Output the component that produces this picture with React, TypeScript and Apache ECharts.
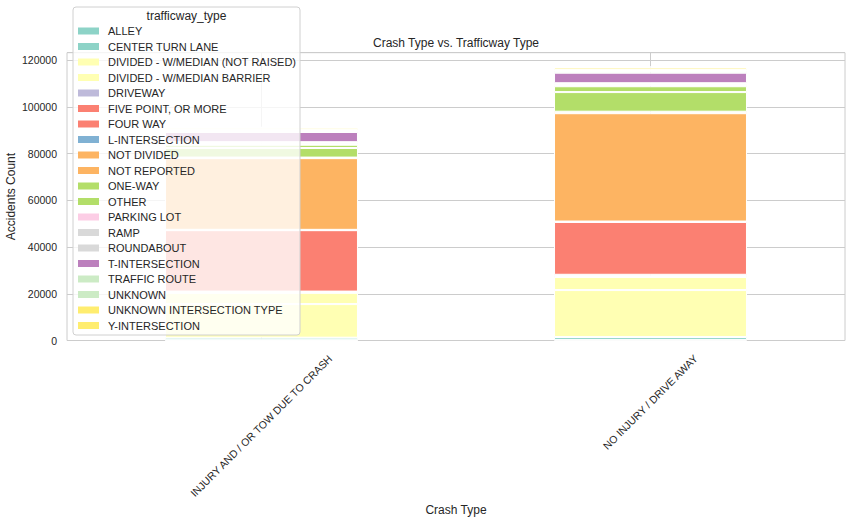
import React, { useEffect, useRef } from "react";
import * as echarts from "echarts";

const categories = ["INJURY AND / OR TOW DUE TO CRASH", "NO INJURY / DRIVE AWAY"];

const trafficwayTypes = [
  "ALLEY",
  "CENTER TURN LANE",
  "DIVIDED - W/MEDIAN (NOT RAISED)",
  "DIVIDED - W/MEDIAN BARRIER",
  "DRIVEWAY",
  "FIVE POINT, OR MORE",
  "FOUR WAY",
  "L-INTERSECTION",
  "NOT DIVIDED",
  "NOT REPORTED",
  "ONE-WAY",
  "OTHER",
  "PARKING LOT",
  "RAMP",
  "ROUNDABOUT",
  "T-INTERSECTION",
  "TRAFFIC ROUTE",
  "UNKNOWN",
  "UNKNOWN INTERSECTION TYPE",
  "Y-INTERSECTION",
];

// values per trafficway type for "INJURY AND / OR TOW DUE TO CRASH"
const injuryValues = [
  150, 1050, 14400, 4800, 400, 150, 26300, 150, 30700, 250,
  4100, 1400, 450, 600, 50, 4350, 400, 500, 900, 400,
];

// values per trafficway type for "NO INJURY / DRIVE AWAY"
const noInjuryValues = [
  250, 1250, 20100, 5600, 700, 250, 22600, 200, 46400, 650,
  8400, 2500, 500, 700, 100, 4500, 700, 500, 1000, 500,
];

const seriesColors = [
  "#8dd3c7", "#8dd3c7", "#ffffb3", "#ffffb3", "#bebada",
  "#fb8072", "#fb8072", "#80b1d3", "#fdb462", "#fdb462",
  "#b3de69", "#b3de69", "#fccde5", "#d9d9d9", "#d9d9d9",
  "#bc80bd", "#ccebc5", "#ccebc5", "#ffed6f", "#ffed6f",
];

const yTickInterval = 20000;

const titleText = "Crash Type vs. Trafficway Type";
const xAxisTitle = "Crash Type";
const yAxisTitle = "Accidents Count";
const legendTitle = "trafficway_type";

const FONT = "'Liberation Sans', Arial, Helvetica, sans-serif";
const TEXT = "#262626";
const GRID = "#cccccc";

export default function App() {
  const ref = useRef<HTMLDivElement>(null);

  useEffect(() => {
    const el = ref.current;
    if (!el) return;
    const chart = echarts.init(el, null, { renderer: "svg" });

    const valuesByCategory = [injuryValues, noInjuryValues];
    const totals = valuesByCategory.map((arr) => arr.reduce((a, b) => a + b, 0));
    const yMax = Math.max(...totals) * 1.05;

    chart.setOption({
      animation: false,
      grid: {
        left: 67,
        right: 7,
        top: 52.7,
        bottom: 182.5,
        show: true,
        borderColor: GRID,
        borderWidth: 1,
        containLabel: false,
        outerBoundsMode: "none",
      },
      legend: {
        orient: "vertical",
        left: 73,
        top: 20,
        itemWidth: 21,
        itemHeight: 7,
        itemGap: 3.5,
        icon: "rect",
        selectedMode: false,
        z: 110,
        itemStyle: { borderWidth: 0 },
        textStyle: {
          fontFamily: FONT,
          fontSize: 11,
          color: TEXT,
          lineHeight: 12,
          padding: [0, 0, 0, 4],
        },
        data: trafficwayTypes,
      },
      xAxis: {
        type: "category",
        data: categories,
        boundaryGap: true,
        axisLine: { show: false },
        axisTick: { show: false, alignWithLabel: true },
        axisLabel: { show: false },
        splitLine: { show: true, alignWithLabel: true, lineStyle: { color: GRID, width: 1 } },
        name: xAxisTitle,
        nameLocation: "middle",
        nameGap: 163,
        nameMoveOverlap: false,
        nameTextStyle: { fontFamily: FONT, fontSize: 12, color: TEXT },
      },
      yAxis: {
        type: "value",
        min: 0,
        max: yMax,
        interval: yTickInterval,
        axisLine: { show: false },
        axisTick: { show: false },
        axisLabel: {
          margin: 10,
          fontFamily: FONT,
          fontSize: 10.5,
          color: TEXT,
          formatter: (v: number) => (v % yTickInterval === 0 ? String(v) : ""),
        },
        splitLine: { show: true, lineStyle: { color: GRID, width: 1 } },
        name: yAxisTitle,
        nameLocation: "middle",
        nameGap: 50,
        nameMoveOverlap: false,
        nameTextStyle: { fontFamily: FONT, fontSize: 12, color: TEXT },
      },
      series: trafficwayTypes.map((name, i) => ({
        name,
        type: "bar",
        stack: "total",
        barWidth: "49.6%",
        itemStyle: { color: seriesColors[i], borderColor: "#ffffff", borderWidth: 1 },
        emphasis: { disabled: true },
        data: valuesByCategory.map((arr) => arr[i]),
      })),
    });

    const canvas = document.createElement("canvas");
    const ctx = canvas.getContext("2d");
    const labelSize = 10.5;
    if (ctx) ctx.font = `${labelSize}px ${FONT}`;
    const axisY = chart.convertToPixel({ yAxisIndex: 0 }, 0) as number;
    const labelEls = categories.map((c, i) => {
      const x = chart.convertToPixel({ xAxisIndex: 0 }, c) as number;
      const w = ctx ? ctx.measureText(c).width : c.length * 6;
      const h = labelSize * 1.1;
      const half = ((w + h) * Math.SQRT1_2) / 2;
      return {
        type: "text",
        id: "xlabel" + i,
        x,
        y: axisY + 12 + half,
        rotation: Math.PI / 4,
        z: 120,
        style: {
          text: c,
          fill: TEXT,
          font: `${labelSize}px ${FONT}`,
          align: "center",
          verticalAlign: "middle",
        },
      };
    });

    const plotCenterX = ((chart.convertToPixel({ xAxisIndex: 0 }, categories[0]) as number) +
      (chart.convertToPixel({ xAxisIndex: 0 }, categories[1]) as number)) / 2;

    chart.setOption({
      graphic: [
        {
          type: "rect",
          id: "legendBg",
          z: 100,
          shape: { x: 73, y: 7, width: 227, height: 328, r: 3 },
          style: { fill: "rgba(255,255,255,0.8)", stroke: "#d0d0d0", lineWidth: 1 },
        },
        {
          type: "text",
          id: "legendTitle",
          z: 120,
          x: 186.5,
          y: 16,
          style: {
            text: legendTitle,
            fill: TEXT,
            font: `12px ${FONT}`,
            align: "center",
            verticalAlign: "middle",
          },
        },
        {
          type: "text",
          id: "title",
          z: 120,
          x: plotCenterX,
          y: 43,
          style: {
            text: titleText,
            fill: TEXT,
            font: `12px ${FONT}`,
            align: "center",
            verticalAlign: "middle",
          },
        },
        ...labelEls,
      ],
    });

    return () => {
      chart.dispose();
    };
  }, []);

  return (
    <div
      ref={ref}
      style={{ position: "absolute", left: 0, top: 0, width: 852, height: 523, background: "#ffffff" }}
    />
  );
}
